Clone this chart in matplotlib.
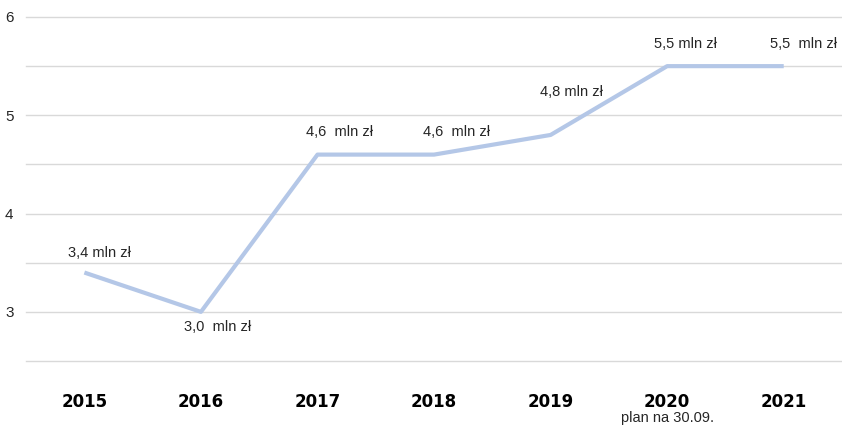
import matplotlib.pyplot as plt
from matplotlib.transforms import blended_transform_factory

# --data--
years = ['2015', '2016', '2017', '2018', '2019', '2020', '2021']
values = [3.4, 3.0, 4.6, 4.6, 4.8, 5.5, 5.5]
point_labels = ['3,4 mln zł', '3,0  mln zł', '4,6  mln zł', '4,6  mln zł',
                '4,8 mln zł', '5,5 mln zł', '5,5  mln zł']
# label offsets in points (dx, dy) relative to each point
label_offsets = [(11, 14), (12, -11), (16, 16), (16, 16), (15, 31), (13, 16), (14, 16)]
y_ticks = [3, 4, 5, 6]
grid_levels = [2.5, 3, 3.5, 4, 4.5, 5, 5.5, 6]

label_font = ['Liberation Sans', 'DejaVu Sans']
line_color = '#b4c7e7'
text_color = '#262626'

fig = plt.figure(figsize=(8.42, 4.28), dpi=100)
ax = fig.add_axes([0.031, 0.1565, 0.969, 0.8038])

for g in grid_levels:
    ax.axhline(g, color='#d9d9d9', linewidth=1.0, zorder=0, clip_on=False)

x = list(range(len(years)))
ax.plot(x, values, color=line_color, linewidth=3.0, solid_capstyle='butt', zorder=2)

for xi, v, lab, off in zip(x, values, point_labels, label_offsets):
    ax.annotate(lab, xy=(xi, v), xytext=off, textcoords='offset points',
                ha='center', va='center', fontsize=10.5, color=text_color,
                family=label_font)

ax.set_xlim(-0.5, 6.5)
ax.set_ylim(2.5, 6.0)
ax.set_yticks(y_ticks)
ax.set_yticklabels([str(t) for t in y_ticks], fontsize=11, color=text_color,
                   family=label_font)
ax.set_xticks(x)
ax.set_xticklabels(years, fontsize=12, fontweight='bold', color='black')
ax.tick_params(axis='x', length=0, pad=23)
ax.tick_params(axis='y', length=0, pad=9)
for s in ax.spines.values():
    s.set_visible(False)

trans = blended_transform_factory(ax.transData, ax.transAxes)
ax.annotate('plan na 30.09.', xy=(5, 0), xycoords=trans, xytext=(0, -41),
            textcoords='offset points', ha='center', va='center',
            fontsize=10.5, color=text_color, family=label_font)

fig.savefig('out.png', dpi=100)
